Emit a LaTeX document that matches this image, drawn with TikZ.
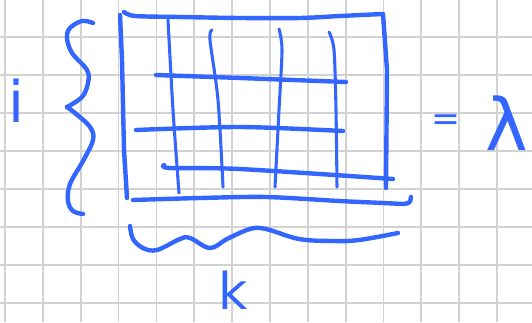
\documentclass[tikz,border=0pt]{standalone}
\usepackage{fontspec}
\newfontfamily\penfont{DejaVu Sans}
\definecolor{penblue}{RGB}{51,102,255}
\definecolor{gridgray}{RGB}{210,210,210}
\usepackage{tikz}

\begin{document}
\begin{tikzpicture}[x=0.75pt, y=-0.75pt,
    gridline/.style={draw=gridgray, line width=1.3pt},
    ink/.style={draw=penblue, line width=3.3pt, line cap=round, line join=round},
    thinink/.style={ink, line width=2.3pt},
    pentext/.style={text=penblue, inner sep=0pt, anchor=base}]
    \fill[white] (0,0) rectangle (532,322);
    \useasboundingbox (0,0) rectangle (532,322);
    \foreach \gx in {0,...,13}
      \draw[gridline] ({5+37.85*\gx},0) -- ({5+37.85*\gx},322);
    \foreach \gy in {0,...,7}
      \draw[gridline] (0,{37+38*\gy}) -- (532,{37+38*\gy});
    % matrix frame
    \draw[ink] plot[smooth, tension=0.5] coordinates {(124,12) (135,16) (180,17) (240,18) (300,18) (340,16) (383,14)}
      -- (387,70) -- (386,188);
    \draw[ink] (120,15) -- (122,60) -- (124,150) -- (127,198);
    \draw[ink] plot[smooth, tension=0.5] coordinates {(133,200) (200,198) (266,197) (339,201) (383,203) (403,204)}
      .. controls (410,203) .. (411,197);
    % rows and columns
    \draw[ink] plot[smooth, tension=0.5] coordinates {(156,75) (240,78) (346,82)};
    \draw[ink] plot[smooth, tension=0.5] coordinates {(136,130) (240,127) (343,131)};
    \draw[ink] plot[smooth, tension=0.5] coordinates {(164,165) (170,168) (240,169) (393,179)};
    \draw[thinink] plot[smooth, tension=0.5] coordinates {(168,20) (173,110) (179,193)};
    \draw[thinink] plot[smooth, tension=0.5] coordinates {(212,30) (210,40) (218,100) (223,187)};
    \draw[thinink] plot[smooth, tension=0.5] coordinates {(279,29) (282,50) (279,110) (275,187)};
    \draw[thinink] plot[smooth, tension=0.5] coordinates {(329,32) (334,50) (336,110) (337,187)};
    % braces
    \draw[ink] plot[smooth, tension=0.6] coordinates {(93,23) (82,21) (70,28) (67,38) (72,53) (87,70) (88,83) (82,97) (67,107)};
    \draw[ink] plot[smooth, tension=0.6] coordinates {(67,107) (75,113) (90,127) (93,140) (83,161) (70,184) (68,201) (73,211) (83,214)};
    \draw[ink] plot[smooth, tension=0.6] coordinates {(130,226) (133,239) (143,248) (157,250) (180,239) (190,238) (210,248) (227,239) (250,229) (266,229) (299,239) (333,241) (359,240) (398,233)};
    % labels
    \node[pentext, font=\penfont\fontsize{43}{43}\selectfont] (rowidx) at (16,122) {i};
    \node[pentext, font=\penfont\fontsize{38}{38}\selectfont] (colidx) at (233,309) {k};
    \node[pentext, font=\penfont\fontsize{26}{26}\selectfont] (eqsign) at (446,130) {=};
    \node[pentext, font=\penfont\fontsize{54}{54}\selectfont] (lam) at (507,150) {λ};
  \end{tikzpicture}
\end{document}
